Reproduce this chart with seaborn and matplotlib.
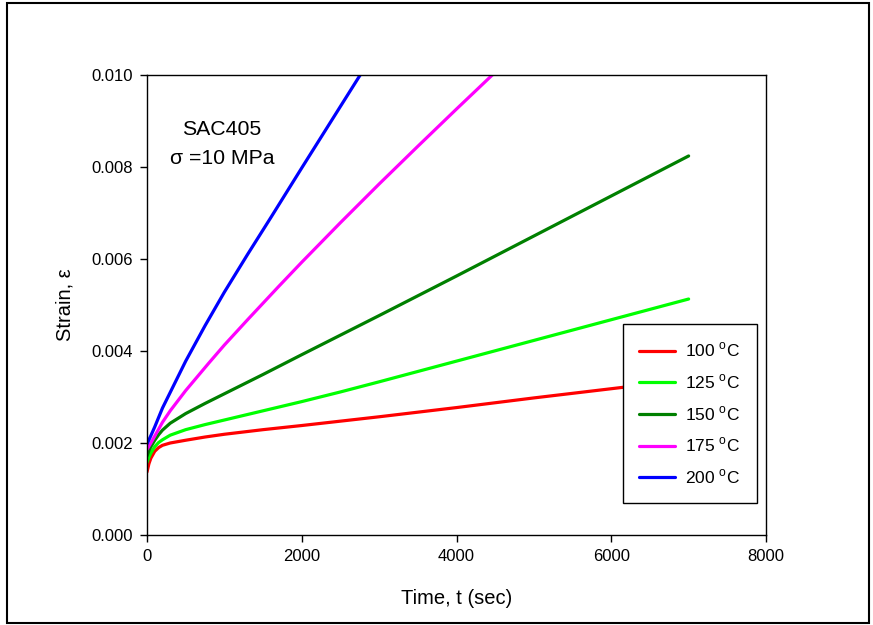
import matplotlib
matplotlib.use("Agg")
import matplotlib.pyplot as plt
from matplotlib.patches import Rectangle
import pandas as pd
import seaborn as sns

# Creep strain vs time for SAC405 at sigma = 10 MPa
t_100 = [0, 25, 50, 100, 150, 200, 300, 500, 750, 1000, 1500, 2000, 3000, 4000, 5000, 6000, 7000]
eps_100 = [0.00137, 0.00155, 0.00167, 0.00182, 0.00190, 0.00195, 0.00200, 0.00206, 0.00213,
           0.00219, 0.00229, 0.00238, 0.00257, 0.00277, 0.00298, 0.00318, 0.00338]

t_125 = [0, 25, 50, 100, 150, 200, 300, 500, 750, 1000, 1500, 2000, 2500, 3000, 4000, 5000,
         6000, 7000]
eps_125 = [0.00158, 0.00169, 0.00178, 0.00192, 0.00201, 0.00207, 0.00217, 0.00229, 0.00240,
           0.00250, 0.00270, 0.00290, 0.00311, 0.00333, 0.00378, 0.00423, 0.00468, 0.00513]

t_150 = [0, 25, 50, 100, 150, 200, 300, 500, 750, 1000, 1500, 2000, 3000, 4000, 5000, 6000, 7000]
eps_150 = [0.00172, 0.00183, 0.00192, 0.00206, 0.00218, 0.00228, 0.00243, 0.00264, 0.00286,
           0.00307, 0.00349, 0.00392, 0.00477, 0.00563, 0.00650, 0.00737, 0.00824]

t_175 = [0, 25, 50, 100, 200, 300, 500, 800, 1000, 1300, 1700, 2000, 2500, 3000, 3500, 4000,
         4500, 4600]
eps_175 = [0.00186, 0.00193, 0.00200, 0.00215, 0.00245, 0.00270, 0.00314, 0.00374, 0.00413,
           0.00468, 0.00540, 0.00593, 0.00679, 0.00763, 0.00845, 0.00926, 0.01006, 0.01022]

t_200 = [0, 25, 50, 100, 200, 300, 500, 750, 1000, 1300, 1600, 2000, 2400, 2800, 2900]
eps_200 = [0.00198, 0.00207, 0.00216, 0.00235, 0.00276, 0.00310, 0.00378, 0.00455, 0.00528,
           0.00610, 0.00690, 0.00798, 0.00905, 0.01012, 0.01040]

temps = ["100", "125", "150", "175", "200"]
colors = ["#ff0000", "#00ff00", "#008000", "#ff00ff", "#0000ff"]

x_ticks = [0, 2000, 4000, 6000, 8000]
y_ticks = [0.000, 0.002, 0.004, 0.006, 0.008, 0.010]

series = {"100": (t_100, eps_100), "125": (t_125, eps_125), "150": (t_150, eps_150),
          "175": (t_175, eps_175), "200": (t_200, eps_200)}
frames = [pd.DataFrame({"time": t, "strain": e, "temp": k}) for k, (t, e) in series.items()]
df = pd.concat(frames, ignore_index=True)

sns.set_style("white")
plt.rcParams["font.family"] = ["Liberation Sans", "DejaVu Sans"]
plt.rcParams["mathtext.fontset"] = "custom"
plt.rcParams["mathtext.rm"] = "Liberation Sans"
plt.rcParams["text.color"] = "black"
plt.rcParams["axes.labelcolor"] = "black"
plt.rcParams["xtick.color"] = "black"
plt.rcParams["ytick.color"] = "black"

fig = plt.figure(figsize=(8.73, 6.25), dpi=100)
ax = fig.add_axes([147 / 873, 1 - 535 / 625, (766 - 147) / 873, (535 - 75) / 625])

sns.lineplot(data=df, x="time", y="strain", hue="temp", hue_order=temps,
             palette=dict(zip(temps, colors)), estimator=None, sort=False,
             linewidth=2.3, legend=False, ax=ax)

ax.set_xlim(0, 8000)
ax.set_ylim(0, 0.010)
ax.set_xticks(x_ticks)
ax.set_yticks(y_ticks)
ax.set_yticklabels([f"{v:.3f}" for v in y_ticks])
ax.tick_params(axis="both", direction="out", length=5, width=1, labelsize=12,
               colors="black", pad=5)
ax.tick_params(top=False, right=False, left=True, bottom=True)
for s in ax.spines.values():
    s.set_color("black")
    s.set_linewidth(1.0)

ax.set_xlabel("Time, t (sec)", fontsize=14.5, labelpad=18, color="black")
ax.set_ylabel("Strain, ε", fontsize=14.5, labelpad=12.5, color="black")

ax.text(970, 0.00882, "SAC405", ha="center", va="center", fontsize=15.3, color="black")
ax.text(970, 0.00819, "σ =10 MPa", ha="center", va="center", fontsize=15.3, color="black")

labels = [f"{t} $^{{\\mathrm{{o}}}}$C" for t in temps]
leg = ax.legend(handles=ax.get_lines()[:5], labels=labels, loc="lower right",
                bbox_to_anchor=(0.9855, 0.0696), borderaxespad=0, fontsize=12.5,
                frameon=True, fancybox=False, shadow=False, framealpha=1,
                edgecolor="black", handlelength=2.05, labelspacing=0.75,
                borderpad=0.95, handletextpad=0.6)
leg.get_frame().set_linewidth(1.0)
for txt in leg.get_texts():
    txt.set_color("black")

# outer frame around the whole figure
fig.patches.append(Rectangle((7 / 873, 2 / 625), 862 / 873, 620 / 625,
                             transform=fig.transFigure, fill=False,
                             edgecolor="black", linewidth=1.5))

fig.savefig("out.png", dpi=100, facecolor="white")
